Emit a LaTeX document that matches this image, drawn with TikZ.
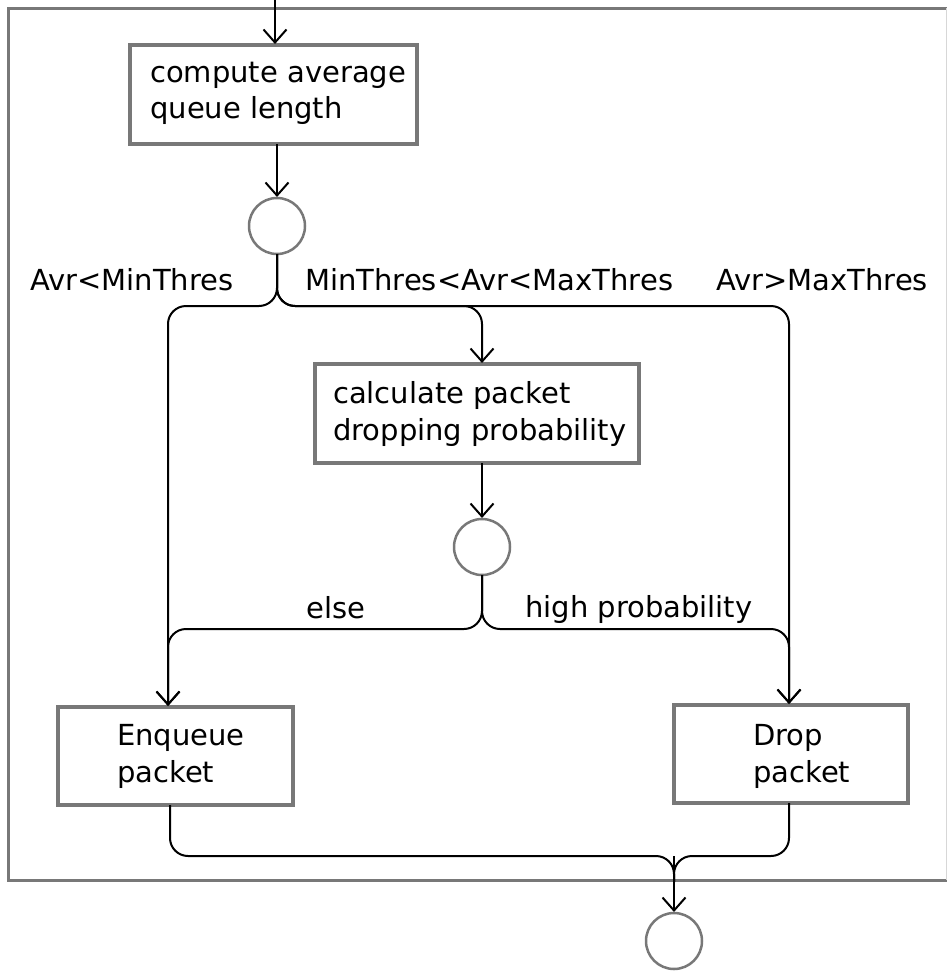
\documentclass[tikz,border=0pt]{standalone}
\usepackage{fontspec}
\setmainfont{DejaVu Sans}
\usetikzlibrary{arrows.meta,calc}
\definecolor{edgegray}{RGB}{120,120,120}
\definecolor{faintgray}{RGB}{215,215,215}
\tikzset{
  box/.style={draw=edgegray, line width=4pt, rectangle, inner sep=0pt, outer sep=0pt, anchor=north west},
  junc/.style={draw=edgegray, line width=2.5pt, circle, minimum size=56pt, inner sep=0pt, outer sep=0pt},
  flow/.style={draw=black, line width=2pt, rounded corners=18pt},
  arr/.style={-{Straight Barb[length=13pt,width=23pt]}, shorten >=1pt},
  lbl/.style={font=\fontsize{29}{34}\selectfont, inner sep=0pt, anchor=base west},
  frame/.style={draw=edgegray, line width=3pt},
}
\begin{document}
\begin{tikzpicture}[x=1pt, y=-1pt]
\useasboundingbox (0,0) rectangle (947,972);

% enclosing frame
\draw[frame] (948,8) -- (8,8) -- (8,880) -- (948,880);
\draw[draw=faintgray, line width=1pt] (946,8) -- (946,880);

% activity boxes
\node[box, minimum width=287pt, minimum height=99pt] (b1) at (130,45) {};
\node[box, minimum width=324pt, minimum height=99pt] (b2) at (315,364) {};
\node[box, minimum width=235pt, minimum height=98pt] (b3) at (58,707) {};
\node[box, minimum width=234pt, minimum height=98pt] (b4) at (674,705) {};

% decision / final circles
\node[junc] (c1) at (277,226) {};
\node[junc] (c2) at (482,547) {};
\node[junc] (c3) at (674,941) {};

% box texts
\node[lbl] (t1a) at (150,82) {compute average};
\node[lbl] (t1b) at (150,118) {queue length};
\node[lbl] (t2a) at (333,403) {calculate packet};
\node[lbl] (t2b) at (333,440) {dropping probability};
\node[lbl] (t3a) at (117,745) {Enqueue};
\node[lbl] (t3b) at (117,782) {packet};
\node[lbl] (t4a) at (753,745) {Drop};
\node[lbl] (t4b) at (753,782) {packet};

% guard labels
\node[lbl] (g1) at (30,290) {Avr<MinThres};
\node[lbl] (g2) at (305,290) {MinThres<Avr<MaxThres};
\node[lbl] (g3) at (716,290) {Avr>MaxThres};
\node[lbl] (g4) at (306,618) {else};
\node[lbl] (g5) at (525,617) {high probability};

% helper columns and rows for the routed connectors
\coordinate (in) at (275,-2);
\coordinate (colL) at (168,0);
\coordinate (colLb) at (170,0);
\coordinate (colM) at (482,0);
\coordinate (colR) at (789,0);
\coordinate (rowA) at (0,306);
\coordinate (rowB) at (0,629);
\coordinate (rowC) at (0,856);
\coordinate (merge) at (674,882);

% incoming flow
\draw[flow, arr] (in) -- (in |- b1.north);
\draw[flow, arr] (b1.south -| c1) -- (c1.north);

% first decision
\draw[flow, arr] (c1.south) -- (c1.south |- rowA) -- (colL |- rowA) -- (colL |- b3.north);
\draw[flow, arr] (c1.south) -- (c1.south |- rowA) -- (colM |- rowA) -- (colM |- b2.north);
\draw[flow, arr] (c1.south) -- (c1.south |- rowA) -- (colR |- rowA) -- (colR |- b4.north);

% probability computation and second decision
\draw[flow, arr] (b2.south -| colM) -- (c2.north);
\draw[flow, arr] (c2.south) -- (c2.south |- rowB) -- (colL |- rowB) -- (colL |- b3.north);
\draw[flow, arr] (c2.south) -- (c2.south |- rowB) -- (colR |- rowB) -- (colR |- b4.north);

% merge into the final node
\draw[flow] (colLb |- b3.south) -- (colLb |- rowC) -- (rowC -| merge) -- (merge);
\draw[flow] (colR |- b4.south) -- (colR |- rowC) -- (rowC -| merge) -- (merge);
\draw[flow, arr] (rowC -| merge) -- (c3.north);
\end{tikzpicture}
\end{document}
